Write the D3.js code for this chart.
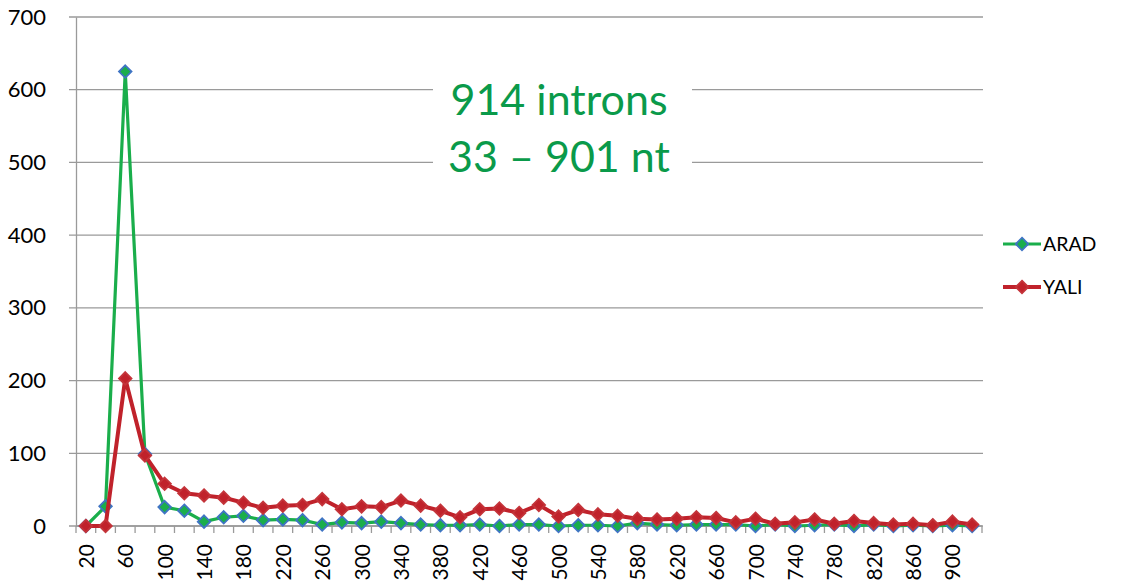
<!DOCTYPE html>
<html>
<head>
<meta charset="utf-8">
<script src="https://cdn.jsdelivr.net/npm/d3@7"></script>
<style>
  body { margin: 0; background: #fff; }
  text { font-family: Lato, "Open Sans", sans-serif; }
</style>
</head>
<body>
<script>
var lengths = d3.range(20, 921, 20);
var arad = [0, 27, 625, 99, 26, 21, 6, 12, 14, 8, 9, 8, 2, 5, 4, 6, 4, 2,
            1, 1, 2, 0, 2, 2, 0, 1, 1, 0, 4, 2, 1, 2, 2, 2, 0, 2, 0, 1,
            2, 0, 2, 0, 1, 0, 1, 0];
var yali = [0, 0, 203, 97, 58, 45, 42, 39, 32, 25, 28, 29, 37, 23, 27, 26, 35, 28,
            21, 12, 23, 24, 18, 29, 13, 22, 16, 14, 10, 9, 10, 12, 11, 5, 10, 3, 5, 9,
            3, 7, 4, 2, 3, 1, 6, 2];
var yTicks = [0, 100, 200, 300, 400, 500, 600, 700];
var seriesNames = ["ARAD", "YALI"];
var lineColors = ["#1aae4b", "#c0222b"];
var markerStroke = ["#3f74c4", "#c4343a"];

var width = 1124, height = 581;
var margin = {left: 76, right: 142, top: 17, bottom: 55};

var svg = d3.select("body").append("svg")
  .attr("width", width)
  .attr("height", height);

var x = d3.scaleBand()
  .domain(lengths)
  .range([margin.left, width - margin.right]);

var y = d3.scaleLinear()
  .domain([0, 700])
  .range([height - margin.bottom, margin.top]);

// grid lines
svg.append("g")
  .selectAll("line")
  .data(yTicks)
  .enter()
  .append("line")
    .attr("x1", margin.left - 7)
    .attr("x2", width - margin.right + 1)
    .attr("y1", function(d) { return y(d); })
    .attr("y2", function(d) { return y(d); })
    .attr("stroke", "#9a9a9a")
    .attr("stroke-width", 1.3);

// y axis
var yAxis = svg.append("g")
  .attr("transform", "translate(" + margin.left + ",0)")
  .call(d3.axisLeft(y).tickValues(yTicks).tickSize(0).tickPadding(30));
yAxis.select(".domain").attr("stroke", "#9a9a9a").attr("stroke-width", 1.3);
yAxis.selectAll("text").attr("font-size", 22).attr("fill", "#000");

// x axis with ticks at category boundaries
var xg = svg.append("g")
  .attr("transform", "translate(0," + y(0) + ")");
xg.append("line")
  .attr("x1", margin.left).attr("x2", width - margin.right)
  .attr("stroke", "#9a9a9a").attr("stroke-width", 1.3);
xg.selectAll("line.tk")
  .data(lengths.concat([null]))
  .enter()
  .append("line")
    .attr("class", "tk")
    .attr("x1", function(d, i) { return margin.left + i * x.step(); })
    .attr("x2", function(d, i) { return margin.left + i * x.step(); })
    .attr("y1", 0).attr("y2", 7)
    .attr("stroke", "#9a9a9a").attr("stroke-width", 1.3);
xg.selectAll("text")
  .data(lengths.filter(function(d, i) { return i % 2 === 0; }))
  .enter()
  .append("text")
    .attr("transform", function(d) {
      return "translate(" + (x(d) + x.bandwidth() / 2 + 8) + ",18) rotate(-90)";
    })
    .attr("text-anchor", "end")
    .attr("font-size", 21)
    .text(function(d) { return d; });

// annotation box
var note = svg.append("g");
note.append("rect")
  .attr("x", 433).attr("y", 66).attr("width", 259).attr("height", 122)
  .attr("fill", "#fff");
note.selectAll("text")
  .data(["914 introns", "33 \u2013 901 nt"])
  .enter()
  .append("text")
    .attr("x", 559)
    .attr("y", function(d, i) { return 115 + i * 57; })
    .attr("text-anchor", "middle")
    .attr("font-size", 43)
    .attr("fill", "#0a9a4a")
    .text(function(d) { return d; });

var series = [arad, yali];
var line = d3.line()
  .x(function(d, i) { return x(lengths[i]) + x.bandwidth() / 2; })
  .y(function(d) { return y(d); });

var diamond = d3.symbol().type(d3.symbolDiamond2).size(100);

// ARAD drawn first so YALI sits on top, as in the picture
[0, 1].forEach(function(s) {
  var g = svg.append("g");
  g.append("path")
    .attr("d", line(series[s]))
    .attr("fill", "none")
    .attr("stroke", lineColors[s])
    .attr("stroke-width", s === 0 ? 3.2 : 4)
    .attr("stroke-linejoin", "round");
  g.selectAll("path.pt")
    .data(series[s])
    .enter()
    .append("path")
      .attr("class", "pt")
      .attr("d", diamond)
      .attr("transform", function(d, i) {
        return "translate(" + (x(lengths[i]) + x.bandwidth() / 2) + "," + y(d) + ")";
      })
      .attr("fill", lineColors[s])
      .attr("stroke", markerStroke[s])
      .attr("stroke-width", 1.8);
});

// legend
var legend = svg.append("g");
seriesNames.forEach(function(name, i) {
  var ly = 244 + i * 43;
  legend.append("line")
    .attr("x1", 1003).attr("x2", 1041)
    .attr("y1", ly).attr("y2", ly)
    .attr("stroke", lineColors[i]).attr("stroke-width", i === 0 ? 3.2 : 4);
  legend.append("path")
    .attr("d", diamond)
    .attr("transform", "translate(1022," + ly + ")")
    .attr("fill", lineColors[i])
    .attr("stroke", markerStroke[i])
    .attr("stroke-width", 1.8);
  legend.append("text")
    .attr("x", 1043).attr("y", ly + 7)
    .attr("font-size", 19.5)
    .text(name);
});
</script>
</body>
</html>
